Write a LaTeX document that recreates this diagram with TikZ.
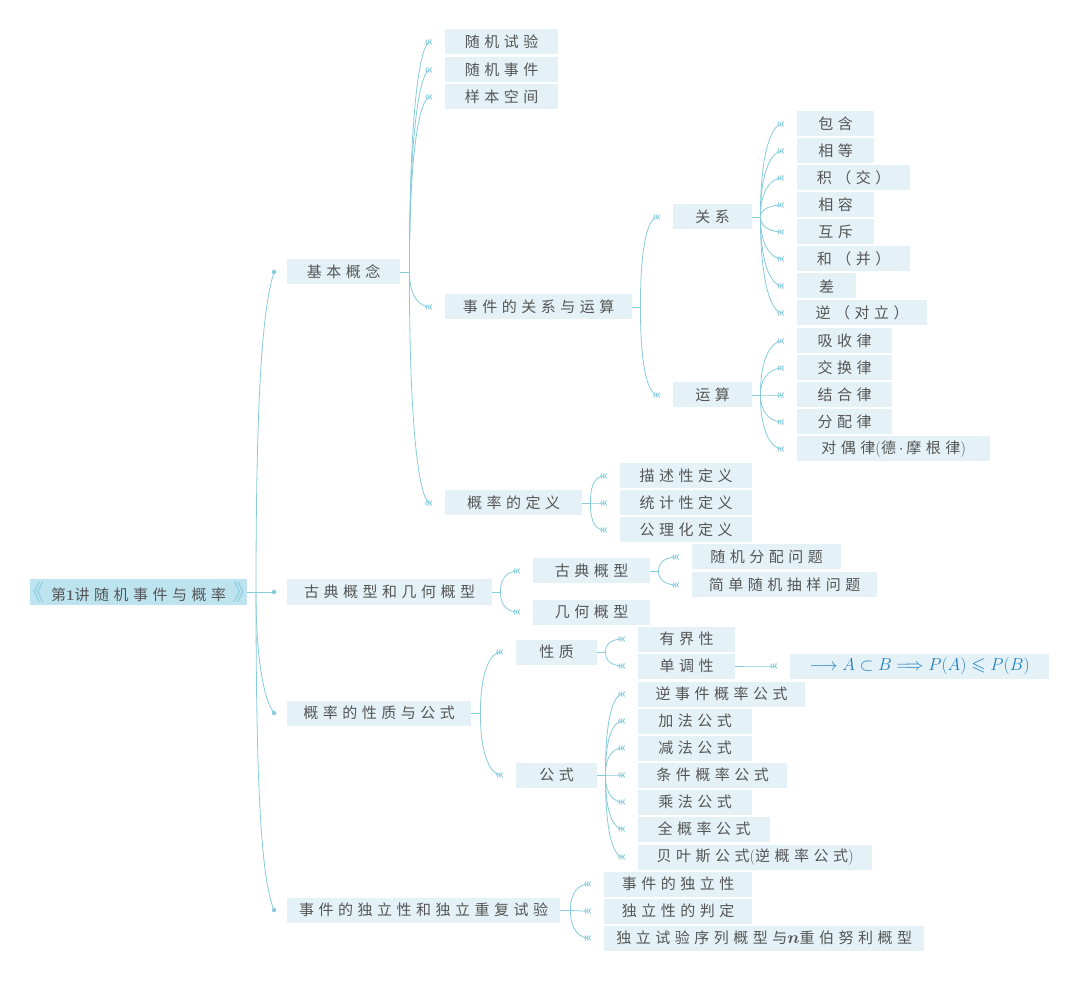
\documentclass[tikz,border=0pt]{standalone}
\usepackage{fontspec}
\usepackage{amsmath,amssymb}
\usetikzlibrary{calc,arrows.meta}
\newfontfamily\cjk[LetterSpace=30]{Noto Sans CJK SC}
\newfontfamily\cjkplain{Noto Sans CJK SC}
\definecolor{lnc}{HTML}{86CCDD}
\definecolor{boxc}{HTML}{E4F2F7}
\definecolor{rootc}{HTML}{BDE3EF}
\definecolor{brk}{HTML}{8ACFE2}
\definecolor{txtc}{HTML}{555555}
\definecolor{fblue}{HTML}{1F7FC0}
\newcommand\lp{{\normalfont\fontsize{16}{16}\selectfont(}}
\newcommand\rp{{\normalfont\fontsize{16}{16}\selectfont)}}
\newcommand\mdot{{\normalfont\fontsize{16}{16}\selectfont\,$\cdot$\,}}
\tikzset{
  box/.style={rectangle, fill=boxc, inner sep=0pt, minimum height=25pt, anchor=west, text=txtc, font=\fontsize{15}{18}\cjk},
  conn/.style={draw=lnc, line width=0.8pt},
  tipped/.style={-{Straight Barb[reversed,length=1.4pt,width=5pt] Straight Barb[reversed,length=1.4pt,width=5pt] Straight Barb[reversed,length=1.4pt,width=5pt]}},
  dotc/.style={circle, fill=lnc, inner sep=0pt, minimum size=4.5pt},
}
\newcommand\bx[5]{\node[box, minimum width=#3pt-#2pt] (#1) at (#2,#4) {#5};}
\newcommand\branch[3]{%
  \coordinate (#1-bp) at ($(#1.east)+(#2,0)$);
  \draw[conn] (#1.east) -- (#1-bp);
  \foreach \c in {#3}{
    \draw[conn,tipped] (#1-bp) .. controls ($(#1-bp)!0.75!(#1-bp|-\c.west)$) and ($(\c.west)+(-24,0)$) .. ($(\c.west)+(-13,0)$);
  }}
\begin{document}
\begin{tikzpicture}[x=1pt,y=-1pt]
\fill[white] (0,0) rectangle (1080,981);
\useasboundingbox (0,0) rectangle (1080,981);
% root
\node[rectangle, fill=rootc, inner sep=0pt, minimum height=25pt, minimum width=217pt, anchor=west, text=txtc, font=\fontsize{15}{18}\cjk] (root) at (30,592)
  {\makebox[213pt]{{\color{brk}\fontsize{22}{22}\cjkplain\hspace*{-10pt}《}\hfill 第{\normalfont\bfseries 1}讲随机事件与概率\hfill{\color{brk}\fontsize{22}{22}\cjkplain》\hspace*{-10pt}}}};
% level 1
\bx{n1}{287}{400}{272}{基本概念}
\bx{n2}{287}{492}{592}{古典概型和几何概型}
\bx{n3}{287}{471}{713}{概率的性质与公式}
\bx{n4}{287}{560}{910}{事件的独立性和独立重复试验}
\node[dotc] (d1) at (274,272) {};
\node[dotc] (d2) at (274,592) {};
\node[dotc] (d3) at (274,713) {};
\node[dotc] (d4) at (274,910) {};
\coordinate (tr) at (256,592);
\draw[conn] (root.east) -- (d2.center);
\draw[conn] (tr) .. controls (256,400) and (262,310) .. (d1.center);
\draw[conn] (tr) .. controls (256,660) and (264,700) .. (d3.center);
\draw[conn] (tr) .. controls (256,800) and (262,880) .. (d4.center);
% level 2 under n1
\bx{a1}{445}{558}{42}{随机试验}
\bx{a2}{445}{558}{70}{随机事件}
\bx{a3}{445}{558}{97}{样本空间}
\bx{a4}{445}{632}{307}{事件的关系与运算}
\bx{a5}{445}{582}{503}{概率的定义}
\branch{n1}{9}{a1,a2,a3,a4,a5}
% under a4
\bx{b1}{673}{752}{217}{关系}
\bx{b2}{673}{752}{395}{运算}
\branch{a4}{8}{b1,b2}
% under b1
\bx{c1}{797}{874}{124}{包含}
\bx{c2}{797}{874}{151}{相等}
\bx{c3}{797}{910}{178}{积（交）}
\bx{c4}{797}{874}{205}{相容}
\bx{c5}{797}{874}{232}{互斥}
\bx{c6}{797}{910}{259}{和（并）}
\bx{c7}{797}{856}{286}{差}
\bx{c8}{797}{927}{313}{逆（对立）}
\branch{b1}{8}{c1,c2,c3,c4,c5,c6,c7,c8}
% under b2
\bx{e01}{797}{892}{341}{吸收律}
\bx{e02}{797}{892}{368}{交换律}
\bx{e03}{797}{892}{395}{结合律}
\bx{e04}{797}{892}{422}{分配律}
\bx{e05}{797}{990}{449}{对偶律\lp 德\mdot 摩根律\rp}
\branch{b2}{8}{e01,e02,e03,e04,e05}
% under a5
\bx{e1}{620}{752}{476}{描述性定义}
\bx{e2}{620}{752}{503}{统计性定义}
\bx{e3}{620}{752}{530}{公理化定义}
\branch{a5}{8}{e1,e2,e3}
% under n2
\bx{f1}{533}{650}{571}{古典概型}
\bx{f2}{533}{650}{612}{几何概型}
\branch{n2}{8}{f1,f2}
\bx{g1}{692}{841}{557}{随机分配问题}
\bx{g2}{692}{877}{585}{简单随机抽样问题}
\branch{f1}{8}{g1,g2}
% under n3
\bx{h1}{516}{597}{652}{性质}
\bx{h2}{516}{597}{775}{公式}
\branch{n3}{9}{h1,h2}
\bx{i1}{638}{735}{639}{有界性}
\bx{i2}{638}{735}{666}{单调性}
\branch{h1}{8}{i1,i2}
\node[box, minimum width=259pt, text=fblue, font=\fontsize{18.5}{20}\selectfont] (fm) at (790,666) {$\longrightarrow A\subset B\Longrightarrow P(A)\leqslant P(B)$};
\branch{i2}{8}{fm}
\bx{j1}{638}{805}{694}{逆事件概率公式}
\bx{j2}{638}{752}{721}{加法公式}
\bx{j3}{638}{752}{748}{减法公式}
\bx{j4}{638}{787}{775}{条件概率公式}
\bx{j5}{638}{752}{802}{乘法公式}
\bx{j6}{638}{770}{829}{全概率公式}
\bx{j7}{638}{872}{857}{贝叶斯公式\lp 逆概率公式\rp}
\branch{h2}{8}{j1,j2,j3,j4,j5,j6,j7}
% under n4
\bx{k1}{604}{752}{884}{事件的独立性}
\bx{k2}{604}{752}{911}{独立性的判定}
\bx{k3}{604}{924}{938}{独立试验序列概型与{\normalfont\fontsize{16}{16}\selectfont$\boldsymbol{n}$}重伯努利概型}
\branch{n4}{10}{k1,k2,k3}
\end{tikzpicture}
\end{document}
